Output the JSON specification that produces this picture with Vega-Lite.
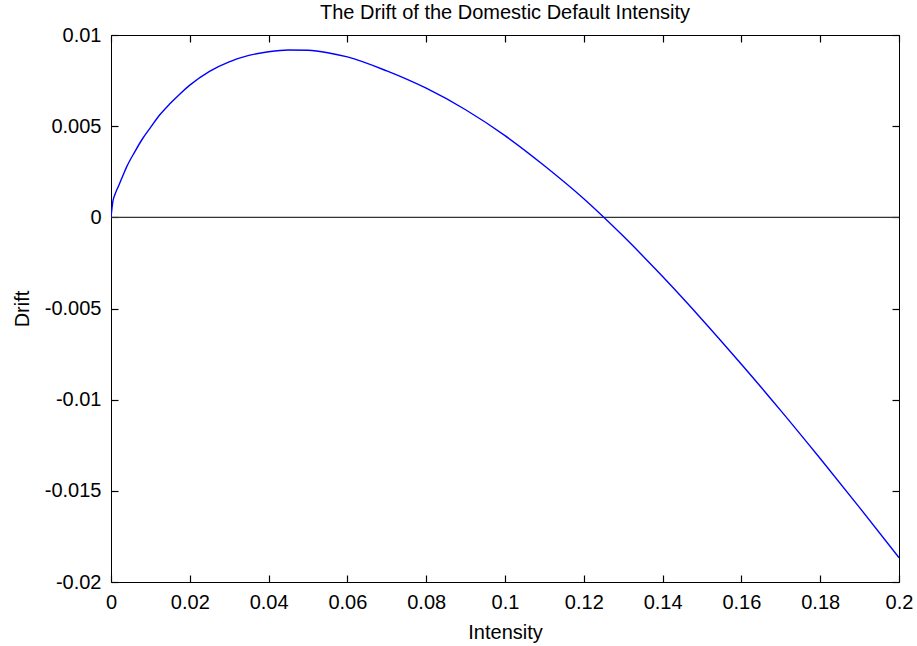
{
  "$schema": "https://vega.github.io/schema/vega-lite/v6.json",
  "autosize": {"type": "none"},
  "width": 788,
  "height": 547,
  "padding": {"left": 111, "top": 35, "right": 18, "bottom": 64},
  "background": "#ffffff",
  "title": {
    "text": "The Drift of the Domestic Default Intensity",
    "font": "Liberation Sans",
    "fontSize": 20,
    "fontWeight": "normal",
    "color": "#000000",
    "anchor": "middle",
    "offset": 2
  },
  "config": {
    "view": {"stroke": "#000000", "strokeWidth": 1},
    "axis": {
      "domain": false,
      "grid": false,
      "ticks": true,
      "tickColor": "#000000",
      "tickWidth": 1.2,
      "tickSize": -7,
      "zindex": 1,
      "labelFont": "Liberation Sans",
      "labelFontSize": 20,
      "labelColor": "#000000",
      "titleFont": "Liberation Sans",
      "titleFontSize": 20,
      "titleFontWeight": "normal",
      "titleColor": "#000000"
    }
  },
  "datasets": {
    "drift": [
      {"intensity": 0.0, "drift": 0.0},
      {"intensity": 0.0005, "drift": 0.0009},
      {"intensity": 0.001, "drift": 0.00125},
      {"intensity": 0.002, "drift": 0.00176},
      {"intensity": 0.003, "drift": 0.00228},
      {"intensity": 0.004, "drift": 0.00278},
      {"intensity": 0.006, "drift": 0.00358},
      {"intensity": 0.008, "drift": 0.00431},
      {"intensity": 0.01, "drift": 0.00492},
      {"intensity": 0.0125, "drift": 0.00565},
      {"intensity": 0.015, "drift": 0.00624},
      {"intensity": 0.0175, "drift": 0.00677},
      {"intensity": 0.02, "drift": 0.00725},
      {"intensity": 0.025, "drift": 0.00801},
      {"intensity": 0.03, "drift": 0.00853},
      {"intensity": 0.035, "drift": 0.00888},
      {"intensity": 0.04, "drift": 0.00908},
      {"intensity": 0.045, "drift": 0.00918},
      {"intensity": 0.05, "drift": 0.00916},
      {"intensity": 0.055, "drift": 0.00903},
      {"intensity": 0.06, "drift": 0.0088},
      {"intensity": 0.07, "drift": 0.00803},
      {"intensity": 0.08, "drift": 0.00708},
      {"intensity": 0.09, "drift": 0.0059},
      {"intensity": 0.1, "drift": 0.00448},
      {"intensity": 0.11, "drift": 0.00283},
      {"intensity": 0.12, "drift": 0.00102},
      {"intensity": 0.13, "drift": -0.00103},
      {"intensity": 0.14, "drift": -0.00325},
      {"intensity": 0.15, "drift": -0.0056},
      {"intensity": 0.16, "drift": -0.00806},
      {"intensity": 0.17, "drift": -0.0106},
      {"intensity": 0.18, "drift": -0.01323},
      {"intensity": 0.19, "drift": -0.01592},
      {"intensity": 0.2, "drift": -0.01867}
    ],
    "zero": [{"level": 0}]
  },
  "layer": [
    {
      "data": {"name": "zero"},
      "mark": {"type": "rule", "color": "#333333", "strokeWidth": 1.4},
      "encoding": {
        "y": {
          "field": "level",
          "type": "quantitative",
          "scale": {"domain": [-0.02, 0.01], "nice": false, "zero": false},
          "axis": {"orient": "right", "labels": false, "title": null, "values": [-0.02, -0.015, -0.01, -0.005, 0, 0.005, 0.01]}
        }
      }
    },
    {
      "data": {"name": "zero"},
      "mark": {"type": "point", "opacity": 0},
      "encoding": {
        "x": {
          "field": "level",
          "type": "quantitative",
          "scale": {"domain": [0, 0.2], "nice": false, "zero": false},
          "axis": {"orient": "top", "labels": false, "title": null, "values": [0, 0.02, 0.04, 0.06, 0.08, 0.1, 0.12, 0.14, 0.16, 0.18, 0.2]}
        }
      }
    },
    {
      "data": {"name": "drift"},
      "mark": {"type": "line", "color": "#0000ff", "strokeWidth": 1.4, "interpolate": "monotone", "clip": true},
      "encoding": {
        "x": {
          "field": "intensity",
          "type": "quantitative",
          "scale": {"domain": [0, 0.2], "nice": false, "zero": false},
          "axis": {
            "orient": "bottom",
            "title": "Intensity",
            "titlePadding": 10,
            "labelPadding": 17,
            "values": [0, 0.02, 0.04, 0.06, 0.08, 0.1, 0.12, 0.14, 0.16, 0.18, 0.2],
            "labelExpr": "'' + datum.value",
            "labelFlush": false,
            "labelOverlap": false
          }
        },
        "y": {
          "field": "drift",
          "type": "quantitative",
          "scale": {"domain": [-0.02, 0.01], "nice": false, "zero": false},
          "axis": {
            "orient": "left",
            "title": "Drift",
            "titlePadding": 12,
            "labelPadding": 17,
            "values": [-0.02, -0.015, -0.01, -0.005, 0, 0.005, 0.01],
            "labelExpr": "'' + datum.value",
            "labelFlush": false,
            "labelOverlap": false
          }
        }
      }
    }
  ],
  "resolve": {"axis": {"x": "independent", "y": "independent"}}
}
